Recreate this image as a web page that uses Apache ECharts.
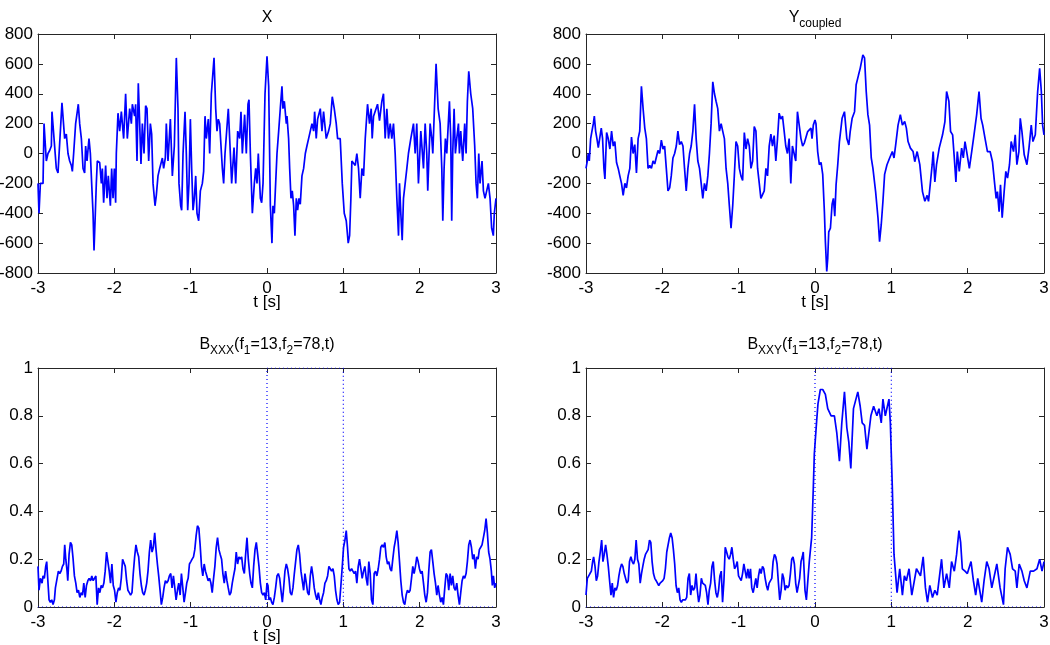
<!DOCTYPE html>
<html>
<head>
<meta charset="utf-8">
<script src="https://cdn.jsdelivr.net/npm/echarts@6/dist/echarts.min.js"></script>
<style>html,body{margin:0;padding:0;background:#fff}#c{width:1050px;height:645px}</style>
</head>
<body>
<div id="c"></div>
<script>
// ---- data: [t (s), value] ----
const xSignal = [[-3.000,-200],[-2.987,-400],[-2.969,-200],[-2.934,-200],[-2.921,200],[-2.891,-50],[-2.869,0],[-2.847,20],[-2.825,50],[-2.817,280],[-2.760,-100],[-2.738,-130],[-2.686,340],[-2.651,100],[-2.629,130],[-2.607,0],[-2.585,-50],[-2.563,-80],[-2.550,-120],[-2.533,0],[-2.507,200],[-2.472,330],[-2.454,200],[-2.432,100],[-2.410,-100],[-2.389,-130],[-2.376,50],[-2.358,-50],[-2.332,100],[-2.314,0],[-2.297,-200],[-2.279,-400],[-2.266,-650],[-2.249,-400],[-2.236,-200],[-2.223,-50],[-2.192,-60],[-2.170,-200],[-2.157,-100],[-2.140,-330],[-2.114,-80],[-2.096,-300],[-2.079,-150],[-2.052,-350],[-2.035,-100],[-2.017,-300],[-2.000,-100],[-1.983,-330],[-1.974,0],[-1.952,270],[-1.930,150],[-1.908,280],[-1.878,100],[-1.852,400],[-1.830,100],[-1.799,300],[-1.777,200],[-1.764,330],[-1.734,250],[-1.721,330],[-1.703,-50],[-1.686,470],[-1.668,200],[-1.651,-70],[-1.633,200],[-1.611,0],[-1.590,320],[-1.572,300],[-1.550,-50],[-1.528,200],[-1.511,130],[-1.493,-200],[-1.467,-350],[-1.450,-280],[-1.428,-150],[-1.406,-100],[-1.371,-30],[-1.354,-100],[-1.332,-30],[-1.319,200],[-1.297,-50],[-1.266,230],[-1.240,-150],[-1.214,50],[-1.188,640],[-1.166,300],[-1.153,-200],[-1.131,-350],[-1.118,-380],[-1.100,0],[-1.074,280],[-1.057,0],[-1.039,-380],[-1.022,-200],[-1.004,230],[-0.987,-100],[-0.969,-380],[-0.952,-300],[-0.934,-150],[-0.917,-400],[-0.895,-450],[-0.873,-250],[-0.847,-200],[-0.830,-120],[-0.812,250],[-0.795,100],[-0.769,230],[-0.751,0],[-0.729,400],[-0.694,640],[-0.672,300],[-0.655,150],[-0.638,230],[-0.620,200],[-0.585,-100],[-0.568,-200],[-0.550,0],[-0.507,300],[-0.489,100],[-0.463,-200],[-0.432,40],[-0.410,-200],[-0.384,150],[-0.358,100],[-0.341,280],[-0.323,0],[-0.293,260],[-0.271,0],[-0.249,330],[-0.236,360],[-0.218,0],[-0.205,-200],[-0.192,-400],[-0.166,-200],[-0.148,-100],[-0.131,-200],[-0.114,0],[-0.087,-300],[-0.070,-330],[-0.052,-200],[-0.026,400],[0.000,650],[0.022,450],[0.044,-350],[0.065,-600],[0.078,-350],[0.096,-400],[0.109,-250],[0.131,0],[0.153,150],[0.174,300],[0.196,450],[0.209,300],[0.227,350],[0.253,200],[0.262,250],[0.283,100],[0.297,-100],[0.314,-300],[0.331,-250],[0.349,-350],[0.366,-550],[0.384,-300],[0.401,-380],[0.419,-300],[0.436,-340],[0.458,-150],[0.480,-100],[0.502,0],[0.523,50],[0.545,100],[0.567,100],[0.589,200],[0.611,150],[0.624,280],[0.645,100],[0.663,230],[0.698,300],[0.720,150],[0.741,280],[0.776,100],[0.807,150],[0.829,200],[0.855,380],[0.881,300],[0.907,200],[0.925,100],[0.959,100],[0.986,-200],[1.012,-400],[1.038,-450],[1.064,-600],[1.082,-550],[1.099,-300],[1.112,-50],[1.134,-50],[1.156,-80],[1.177,0],[1.199,-100],[1.221,-300],[1.243,-100],[1.265,-150],[1.287,100],[1.317,330],[1.343,200],[1.365,300],[1.378,100],[1.396,250],[1.448,330],[1.474,220],[1.505,350],[1.526,400],[1.548,100],[1.570,300],[1.592,100],[1.614,200],[1.635,100],[1.657,200],[1.679,0],[1.701,-300],[1.723,-550],[1.736,-200],[1.753,-400],[1.771,-580],[1.788,-300],[1.810,-300],[1.832,-100],[1.853,0],[1.884,100],[1.919,200],[1.941,0],[1.962,200],[1.984,-200],[2.015,150],[2.050,-100],[2.072,200],[2.093,0],[2.106,-250],[2.137,200],[2.159,100],[2.172,0],[2.215,600],[2.242,300],[2.268,200],[2.290,-100],[2.303,-450],[2.320,-100],[2.337,100],[2.355,0],[2.390,350],[2.407,100],[2.420,-450],[2.433,0],[2.451,300],[2.468,0],[2.486,100],[2.508,200],[2.521,0],[2.538,150],[2.564,-50],[2.590,200],[2.608,0],[2.625,350],[2.643,550],[2.669,400],[2.695,300],[2.721,50],[2.739,-200],[2.756,-300],[2.774,0],[2.791,-200],[2.817,-50],[2.835,-250],[2.856,-300],[2.878,-250],[2.900,-200],[2.922,-300],[2.943,-500],[2.965,-550],[2.978,-400],[3.000,-300]];

const yCoupled = [[-3.000,-100],[-2.983,-50],[-2.970,0],[-2.957,-50],[-2.939,100],[-2.922,150],[-2.904,200],[-2.891,250],[-2.874,150],[-2.857,100],[-2.839,40],[-2.817,50],[-2.800,170],[-2.783,100],[-2.765,-100],[-2.752,-170],[-2.730,140],[-2.709,100],[-2.687,30],[-2.665,150],[-2.643,50],[-2.622,80],[-2.600,-60],[-2.578,-100],[-2.557,-150],[-2.535,-200],[-2.513,-280],[-2.491,-200],[-2.470,-230],[-2.448,-150],[-2.426,-100],[-2.404,110],[-2.383,0],[-2.361,60],[-2.339,-130],[-2.317,100],[-2.296,150],[-2.274,450],[-2.252,300],[-2.230,170],[-2.209,100],[-2.187,-100],[-2.165,-80],[-2.143,-100],[-2.122,-50],[-2.100,-70],[-2.078,-60],[-2.057,20],[-2.035,0],[-2.013,90],[-1.991,30],[-1.970,50],[-1.948,-100],[-1.926,-250],[-1.904,-230],[-1.883,-150],[-1.861,-30],[-1.839,0],[-1.817,50],[-1.796,150],[-1.774,60],[-1.752,80],[-1.730,50],[-1.709,-100],[-1.687,-250],[-1.665,-100],[-1.643,0],[-1.622,50],[-1.600,150],[-1.578,330],[-1.557,100],[-1.535,-50],[-1.513,-100],[-1.491,-200],[-1.470,-300],[-1.448,-200],[-1.426,-250],[-1.404,-150],[-1.383,0],[-1.361,200],[-1.339,480],[-1.317,400],[-1.296,350],[-1.274,300],[-1.252,150],[-1.230,200],[-1.209,150],[-1.187,100],[-1.165,-100],[-1.143,-200],[-1.122,-350],[-1.100,-500],[-1.078,-350],[-1.057,-150],[-1.035,80],[-1.013,50],[-0.991,-100],[-0.970,-150],[-0.948,-180],[-0.926,140],[-0.904,30],[-0.883,100],[-0.861,50],[-0.839,-100],[-0.817,-50],[-0.796,180],[-0.774,150],[-0.752,-100],[-0.730,-200],[-0.709,-300],[-0.687,-300],[-0.665,-250],[-0.643,-100],[-0.622,-150],[-0.600,50],[-0.578,130],[-0.557,50],[-0.535,120],[-0.513,-50],[-0.491,100],[-0.470,270],[-0.448,230],[-0.426,250],[-0.404,150],[-0.383,50],[-0.361,0],[-0.339,100],[-0.317,-200],[-0.296,50],[-0.274,0],[-0.252,-50],[-0.230,280],[-0.184,100],[-0.162,50],[-0.140,70],[-0.096,147],[-0.053,170],[-0.039,100],[-0.022,190],[0.000,225],[0.013,200],[0.035,13],[0.057,-75],[0.079,-60],[0.101,-140],[0.123,-390],[0.136,-590],[0.154,-790],[0.167,-700],[0.180,-525],[0.202,-500],[0.224,-340],[0.241,-300],[0.259,-420],[0.276,-210],[0.298,-75],[0.320,80],[0.355,236],[0.386,280],[0.417,100],[0.443,57],[0.461,147],[0.487,236],[0.518,280],[0.539,460],[0.570,525],[0.592,570],[0.627,660],[0.649,640],[0.671,415],[0.693,260],[0.715,190],[0.737,-30],[0.759,-100],[0.794,-255],[0.825,-430],[0.846,-590],[0.868,-475],[0.890,-320],[0.912,-140],[0.943,-75],[0.978,-30],[1.013,13],[1.035,-30],[1.057,58],[1.088,190],[1.118,260],[1.145,190],[1.175,214],[1.197,170],[1.219,80],[1.250,36],[1.285,13],[1.307,-55],[1.338,13],[1.373,-75],[1.408,-255],[1.439,-320],[1.469,-280],[1.487,-320],[1.513,-190],[1.535,-75],[1.548,13],[1.570,-190],[1.592,-75],[1.627,36],[1.671,125],[1.702,214],[1.724,415],[1.754,350],[1.776,147],[1.803,125],[1.825,-30],[1.846,-190],[1.864,13],[1.890,-120],[1.921,36],[1.943,-30],[1.965,80],[1.987,13],[2.022,-100],[2.053,13],[2.083,125],[2.118,260],[2.149,415],[2.175,236],[2.197,190],[2.228,100],[2.259,13],[2.294,13],[2.325,-55],[2.351,-190],[2.373,-300],[2.390,-255],[2.412,-390],[2.430,-210],[2.452,-430],[2.478,-255],[2.500,-120],[2.522,-165],[2.548,-75],[2.570,80],[2.601,13],[2.623,125],[2.645,-75],[2.671,13],[2.689,236],[2.711,147],[2.741,-9],[2.776,-75],[2.803,36],[2.833,190],[2.855,80],[2.886,125],[2.917,415],[2.943,570],[2.965,415],[2.982,190],[3.000,125]];

const bXXX = [[-3.000,0.17],[-2.987,0.07],[-2.969,0.12],[-2.947,0.10],[-2.934,0.13],[-2.917,0.12],[-2.899,0.17],[-2.886,0.19],[-2.869,0.10],[-2.855,0.03],[-2.838,0.02],[-2.820,0.03],[-2.803,0.01],[-2.785,0.03],[-2.772,0.08],[-2.750,0.12],[-2.733,0.15],[-2.715,0.14],[-2.698,0.15],[-2.680,0.17],[-2.663,0.18],[-2.650,0.26],[-2.636,0.20],[-2.619,0.15],[-2.610,0.11],[-2.593,0.22],[-2.575,0.27],[-2.558,0.26],[-2.540,0.20],[-2.523,0.13],[-2.505,0.10],[-2.488,0.06],[-2.470,0.07],[-2.452,0.04],[-2.435,0.06],[-2.417,0.05],[-2.400,0.10],[-2.382,0.04],[-2.365,0.09],[-2.347,0.11],[-2.330,0.12],[-2.312,0.11],[-2.295,0.13],[-2.277,0.11],[-2.260,0.12],[-2.242,0.13],[-2.225,0.01],[-2.207,0.08],[-2.190,0.06],[-2.172,0.09],[-2.155,0.08],[-2.137,0.10],[-2.120,0.15],[-2.102,0.23],[-2.085,0.23],[-2.067,0.15],[-2.050,0.10],[-2.032,0.18],[-2.014,0.09],[-1.997,0.07],[-1.979,0.02],[-1.962,0.06],[-1.944,0.08],[-1.927,0.07],[-1.909,0.12],[-1.892,0.20],[-1.874,0.20],[-1.857,0.17],[-1.839,0.11],[-1.822,0.07],[-1.804,0.06],[-1.787,0.05],[-1.769,0.06],[-1.752,0.14],[-1.734,0.21],[-1.717,0.26],[-1.699,0.23],[-1.681,0.21],[-1.664,0.14],[-1.646,0.09],[-1.629,0.06],[-1.611,0.05],[-1.594,0.07],[-1.576,0.10],[-1.559,0.15],[-1.541,0.23],[-1.524,0.28],[-1.506,0.23],[-1.489,0.25],[-1.471,0.31],[-1.454,0.24],[-1.436,0.18],[-1.419,0.13],[-1.401,0.07],[-1.384,0.01],[-1.366,0.04],[-1.349,0.08],[-1.331,0.11],[-1.314,0.10],[-1.296,0.11],[-1.279,0.13],[-1.261,0.14],[-1.244,0.08],[-1.226,0.13],[-1.208,0.08],[-1.191,0.03],[-1.173,0.07],[-1.156,0.10],[-1.138,0.05],[-1.121,0.14],[-1.103,0.08],[-1.086,0.02],[-1.068,0.06],[-1.051,0.10],[-1.033,0.12],[-1.016,0.18],[-0.998,0.19],[-0.981,0.20],[-0.963,0.21],[-0.946,0.24],[-0.928,0.30],[-0.911,0.34],[-0.893,0.33],[-0.876,0.26],[-0.858,0.17],[-0.841,0.13],[-0.823,0.18],[-0.806,0.15],[-0.788,0.13],[-0.771,0.11],[-0.753,0.12],[-0.735,0.10],[-0.718,0.06],[-0.700,0.12],[-0.683,0.17],[-0.665,0.25],[-0.648,0.29],[-0.630,0.24],[-0.613,0.22],[-0.595,0.20],[-0.578,0.14],[-0.560,0.10],[-0.543,0.15],[-0.525,0.11],[-0.508,0.08],[-0.490,0.05],[-0.473,0.06],[-0.455,0.10],[-0.438,0.13],[-0.420,0.16],[-0.403,0.23],[-0.385,0.18],[-0.368,0.21],[-0.350,0.20],[-0.332,0.21],[-0.315,0.16],[-0.297,0.14],[-0.280,0.22],[-0.262,0.29],[-0.245,0.20],[-0.227,0.14],[-0.210,0.10],[-0.192,0.08],[-0.175,0.17],[-0.157,0.24],[-0.140,0.27],[-0.122,0.22],[-0.105,0.17],[-0.087,0.10],[-0.070,0.06],[-0.052,0.05],[-0.035,0.06],[-0.017,0.03],[0.000,0.10],[0.013,0.09],[0.026,0.03],[0.044,0.04],[0.061,0.02],[0.078,0.01],[0.096,0.04],[0.113,0.08],[0.131,0.13],[0.148,0.14],[0.166,0.12],[0.183,0.07],[0.201,0.02],[0.218,0.08],[0.235,0.15],[0.253,0.18],[0.270,0.16],[0.288,0.12],[0.305,0.06],[0.323,0.05],[0.340,0.08],[0.358,0.14],[0.375,0.19],[0.392,0.24],[0.410,0.26],[0.427,0.22],[0.445,0.15],[0.462,0.11],[0.480,0.07],[0.497,0.14],[0.515,0.10],[0.532,0.06],[0.550,0.05],[0.567,0.13],[0.584,0.17],[0.602,0.13],[0.619,0.08],[0.637,0.05],[0.654,0.03],[0.672,0.06],[0.689,0.03],[0.706,0.01],[0.724,0.04],[0.741,0.06],[0.759,0.10],[0.776,0.11],[0.794,0.13],[0.811,0.17],[0.829,0.17],[0.846,0.15],[0.864,0.16],[0.881,0.13],[0.898,0.07],[0.916,0.03],[0.933,0.01],[0.951,0.02],[0.968,0.09],[0.986,0.17],[1.003,0.25],[1.021,0.28],[1.038,0.32],[1.055,0.25],[1.073,0.16],[1.090,0.15],[1.108,0.16],[1.125,0.15],[1.143,0.14],[1.160,0.15],[1.177,0.10],[1.195,0.17],[1.212,0.20],[1.230,0.16],[1.247,0.12],[1.265,0.15],[1.282,0.17],[1.300,0.12],[1.317,0.09],[1.334,0.19],[1.352,0.14],[1.369,0.03],[1.387,0.01],[1.404,0.14],[1.422,0.15],[1.439,0.13],[1.457,0.16],[1.474,0.20],[1.491,0.25],[1.509,0.26],[1.526,0.25],[1.544,0.27],[1.561,0.21],[1.579,0.18],[1.596,0.19],[1.614,0.16],[1.631,0.15],[1.648,0.20],[1.666,0.25],[1.683,0.28],[1.701,0.32],[1.718,0.27],[1.736,0.19],[1.753,0.11],[1.771,0.05],[1.788,0.02],[1.805,0.01],[1.823,0.05],[1.840,0.07],[1.858,0.06],[1.875,0.07],[1.893,0.12],[1.910,0.17],[1.927,0.14],[1.945,0.17],[1.962,0.21],[1.980,0.19],[1.997,0.16],[2.015,0.14],[2.032,0.15],[2.050,0.10],[2.067,0.05],[2.085,0.02],[2.102,0.06],[2.119,0.15],[2.137,0.23],[2.154,0.24],[2.172,0.19],[2.189,0.14],[2.207,0.10],[2.224,0.05],[2.241,0.09],[2.259,0.05],[2.276,0.02],[2.294,0.04],[2.311,0.01],[2.329,0.08],[2.346,0.14],[2.364,0.13],[2.381,0.07],[2.399,0.14],[2.416,0.09],[2.433,0.13],[2.451,0.08],[2.468,0.07],[2.486,0.10],[2.503,0.05],[2.521,0.01],[2.538,0.06],[2.556,0.11],[2.573,0.13],[2.590,0.12],[2.608,0.14],[2.625,0.19],[2.643,0.26],[2.660,0.28],[2.678,0.25],[2.695,0.20],[2.712,0.22],[2.730,0.16],[2.747,0.21],[2.765,0.20],[2.782,0.24],[2.800,0.25],[2.817,0.26],[2.835,0.29],[2.852,0.32],[2.870,0.37],[2.887,0.31],[2.904,0.23],[2.922,0.20],[2.939,0.15],[2.952,0.09],[2.966,0.13],[2.983,0.08],[3.000,0.10]];

const bXXY = [[-3.000,0.05],[-2.983,0.12],[-2.965,0.12],[-2.948,0.14],[-2.930,0.15],[-2.913,0.19],[-2.900,0.21],[-2.882,0.17],[-2.865,0.11],[-2.848,0.13],[-2.830,0.19],[-2.813,0.23],[-2.795,0.28],[-2.778,0.19],[-2.761,0.22],[-2.743,0.26],[-2.726,0.22],[-2.708,0.17],[-2.691,0.11],[-2.673,0.05],[-2.656,0.10],[-2.639,0.04],[-2.621,0.08],[-2.604,0.07],[-2.586,0.09],[-2.569,0.13],[-2.552,0.16],[-2.534,0.18],[-2.517,0.17],[-2.499,0.14],[-2.482,0.12],[-2.465,0.10],[-2.447,0.11],[-2.430,0.19],[-2.412,0.21],[-2.395,0.19],[-2.377,0.18],[-2.360,0.20],[-2.343,0.28],[-2.325,0.20],[-2.308,0.18],[-2.290,0.10],[-2.273,0.14],[-2.256,0.17],[-2.238,0.20],[-2.221,0.22],[-2.203,0.22],[-2.186,0.24],[-2.168,0.28],[-2.151,0.27],[-2.134,0.19],[-2.116,0.14],[-2.099,0.12],[-2.081,0.11],[-2.064,0.10],[-2.047,0.09],[-2.029,0.10],[-2.012,0.10],[-1.994,0.11],[-1.977,0.12],[-1.960,0.16],[-1.942,0.23],[-1.925,0.23],[-1.907,0.29],[-1.890,0.31],[-1.872,0.29],[-1.855,0.24],[-1.838,0.18],[-1.820,0.09],[-1.803,0.06],[-1.785,0.08],[-1.768,0.03],[-1.751,0.02],[-1.733,0.03],[-1.716,0.03],[-1.698,0.03],[-1.681,0.04],[-1.663,0.12],[-1.646,0.14],[-1.629,0.05],[-1.611,0.09],[-1.594,0.07],[-1.576,0.08],[-1.559,0.14],[-1.542,0.07],[-1.524,0.02],[-1.507,0.05],[-1.489,0.12],[-1.472,0.10],[-1.454,0.10],[-1.437,0.09],[-1.420,0.06],[-1.402,0.01],[-1.385,0.07],[-1.367,0.10],[-1.350,0.17],[-1.333,0.19],[-1.315,0.11],[-1.298,0.06],[-1.280,0.04],[-1.263,0.07],[-1.246,0.13],[-1.228,0.15],[-1.211,0.02],[-1.193,0.11],[-1.176,0.25],[-1.158,0.23],[-1.141,0.21],[-1.124,0.20],[-1.106,0.22],[-1.089,0.25],[-1.071,0.20],[-1.054,0.16],[-1.037,0.17],[-1.019,0.19],[-1.002,0.13],[-0.984,0.12],[-0.967,0.11],[-0.949,0.14],[-0.932,0.18],[-0.915,0.15],[-0.897,0.12],[-0.880,0.16],[-0.862,0.12],[-0.845,0.16],[-0.828,0.08],[-0.810,0.06],[-0.793,0.06],[-0.775,0.12],[-0.758,0.08],[-0.740,0.13],[-0.723,0.16],[-0.706,0.14],[-0.688,0.17],[-0.671,0.16],[-0.653,0.12],[-0.636,0.09],[-0.619,0.07],[-0.601,0.10],[-0.584,0.10],[-0.566,0.12],[-0.549,0.19],[-0.531,0.22],[-0.514,0.21],[-0.497,0.18],[-0.479,0.10],[-0.462,0.03],[-0.444,0.07],[-0.427,0.14],[-0.410,0.12],[-0.392,0.07],[-0.375,0.09],[-0.357,0.08],[-0.340,0.09],[-0.322,0.14],[-0.305,0.20],[-0.288,0.21],[-0.270,0.18],[-0.253,0.10],[-0.235,0.06],[-0.218,0.06],[-0.201,0.12],[-0.183,0.19],[-0.166,0.21],[-0.154,0.23],[-0.131,0.07],[-0.113,0.03],[-0.075,0.19],[-0.044,0.29],[-0.022,0.50],[-0.009,0.64],[0.022,0.78],[0.039,0.85],[0.070,0.91],[0.101,0.91],[0.136,0.89],[0.167,0.83],[0.189,0.83],[0.211,0.80],[0.254,0.80],[0.285,0.73],[0.320,0.61],[0.351,0.77],[0.386,0.90],[0.417,0.75],[0.443,0.69],[0.469,0.58],[0.504,0.83],[0.561,0.90],[0.592,0.84],[0.618,0.77],[0.649,0.76],[0.680,0.66],[0.702,0.66],[0.732,0.80],[0.768,0.84],[0.811,0.80],[0.838,0.83],[0.868,0.77],[0.890,0.87],[0.921,0.80],[0.969,0.87],[0.987,0.77],[1.013,0.50],[1.035,0.22],[1.075,0.06],[1.110,0.16],[1.145,0.05],[1.171,0.13],[1.197,0.11],[1.232,0.16],[1.268,0.05],[1.329,0.16],[1.382,0.13],[1.417,0.21],[1.447,0.08],[1.474,0.02],[1.504,0.09],[1.539,0.04],[1.570,0.07],[1.601,0.05],[1.658,0.20],[1.689,0.08],[1.724,0.14],[1.759,0.08],[1.789,0.19],[1.825,0.15],[1.855,0.22],[1.886,0.32],[1.908,0.27],[1.930,0.16],[1.965,0.15],[1.996,0.14],[2.044,0.19],[2.075,0.11],[2.105,0.05],[2.132,0.12],[2.184,0.02],[2.215,0.11],[2.250,0.19],[2.281,0.16],[2.316,0.08],[2.382,0.18],[2.425,0.08],[2.469,0.01],[2.491,0.16],[2.522,0.25],[2.557,0.22],[2.588,0.16],[2.623,0.15],[2.645,0.08],[2.675,0.18],[2.711,0.15],[2.741,0.11],[2.776,0.08],[2.820,0.15],[2.864,0.15],[2.908,0.16],[2.943,0.20],[2.974,0.15],[3.000,0.19]];

// coupling window (dotted): 0 outside [0,1] s, 1 inside
const windowT = [-3, 0, 0, 1, 1, 3];
const windowV = [0, 0, 1, 1, 0, 0];

// axis ticks
const tTicks = { min: -3, max: 3, step: 1 };
const topTicks = { min: -800, max: 800, step: 200 };
const botTicks = { min: 0, max: 1, step: 0.2 };

// ---- layout ----
const FONT = 'Liberation Sans, Arial, Helvetica, sans-serif';
const AX = '#262626';
const FS = 17;
const grids = [
  { left: 38, top: 34, width: 458, height: 239 },
  { left: 586, top: 34, width: 458, height: 239 },
  { left: 38, top: 368, width: 458, height: 239 },
  { left: 586, top: 368, width: 458, height: 239 }
].map(g => Object.assign(g, { containLabel: false, outerBoundsMode: 'none' }));
const showName = [true, true, true, false];

const xAxes = [], yAxes = [];
grids.forEach((g, i) => {
  const yt = i < 2 ? topTicks : botTicks;
  const base = {
    gridIndex: i, type: 'value',
    axisLine: { show: true, onZero: false, lineStyle: { color: AX, width: 1 } },
    axisTick: { show: true, inside: true, length: 5, lineStyle: { color: AX, width: 1 } },
    splitLine: { show: false }
  };
  xAxes.push(Object.assign({}, base, {
    position: 'bottom', min: tTicks.min, max: tTicks.max, interval: tTicks.step,
    axisLabel: { color: '#000', fontSize: FS, fontFamily: FONT, margin: 7 },
    name: showName[i] ? 't [s]' : '', nameLocation: 'middle', nameGap: 21,
    nameMoveOverlap: false,
    nameTextStyle: { color: '#000', fontSize: FS, fontFamily: FONT }
  }));
  xAxes.push(Object.assign({}, base, {
    position: 'top', min: tTicks.min, max: tTicks.max, interval: tTicks.step,
    axisLabel: { show: false }
  }));
  yAxes.push(Object.assign({}, base, {
    position: 'left', min: yt.min, max: yt.max, interval: yt.step,
    axisLabel: { color: '#000', fontSize: FS, fontFamily: FONT, margin: 5 }
  }));
  yAxes.push(Object.assign({}, base, {
    position: 'right', min: yt.min, max: yt.max, interval: yt.step,
    axisLabel: { show: false }
  }));
});

const lineStyle = { color: '#0000ff', width: 1.7 };
const win = windowT.map((t, k) => [t, windowV[k]]);
const dotted = { color: '#0000ff', width: 1.2, type: [1, 3] };
const series = [
  { type: 'line', xAxisIndex: 0, yAxisIndex: 0, data: xSignal, showSymbol: false, lineStyle, z: 3 },
  { type: 'line', xAxisIndex: 2, yAxisIndex: 2, data: yCoupled, showSymbol: false, lineStyle, z: 3 },
  { type: 'line', xAxisIndex: 4, yAxisIndex: 4, data: win, showSymbol: false, lineStyle: dotted, z: 2 },
  { type: 'line', xAxisIndex: 4, yAxisIndex: 4, data: bXXX, showSymbol: false, lineStyle, z: 3 },
  { type: 'line', xAxisIndex: 6, yAxisIndex: 6, data: win, showSymbol: false, lineStyle: dotted, z: 2 },
  { type: 'line', xAxisIndex: 6, yAxisIndex: 6, data: bXXY, showSymbol: false, lineStyle, z: 3 }
];

const rich = {
  b: { fontSize: 16, fontFamily: FONT, color: '#000', lineHeight: 20, verticalAlign: 'top' },
  s: { fontSize: 12, fontFamily: FONT, color: '#000', lineHeight: 11, verticalAlign: 'bottom' }
};
const mkTitle = (text, cx, top) => ({
  text, left: cx, top, textAlign: 'center', padding: 0,
  textStyle: { fontSize: 16, fontFamily: FONT, color: '#000', fontWeight: 'normal', rich }
});
const titles = [
  mkTitle('{b|X}', 267, 10),
  mkTitle('{b|Y}{s|coupled}', 815, 10),
  mkTitle('{b|B}{s|XXX}{b|(f}{s|1}{b|=13,f}{s|2}{b|=78,t)}', 267, 337),
  mkTitle('{b|B}{s|XXY}{b|(f}{s|1}{b|=13,f}{s|2}{b|=78,t)}', 815, 337)
];

const chart = echarts.init(document.getElementById('c'), null, { renderer: 'canvas' });
chart.setOption({
  animation: false,
  backgroundColor: '#fff',
  title: titles,
  grid: grids,
  xAxis: xAxes,
  yAxis: yAxes,
  series
});
</script>
</body>
</html>
